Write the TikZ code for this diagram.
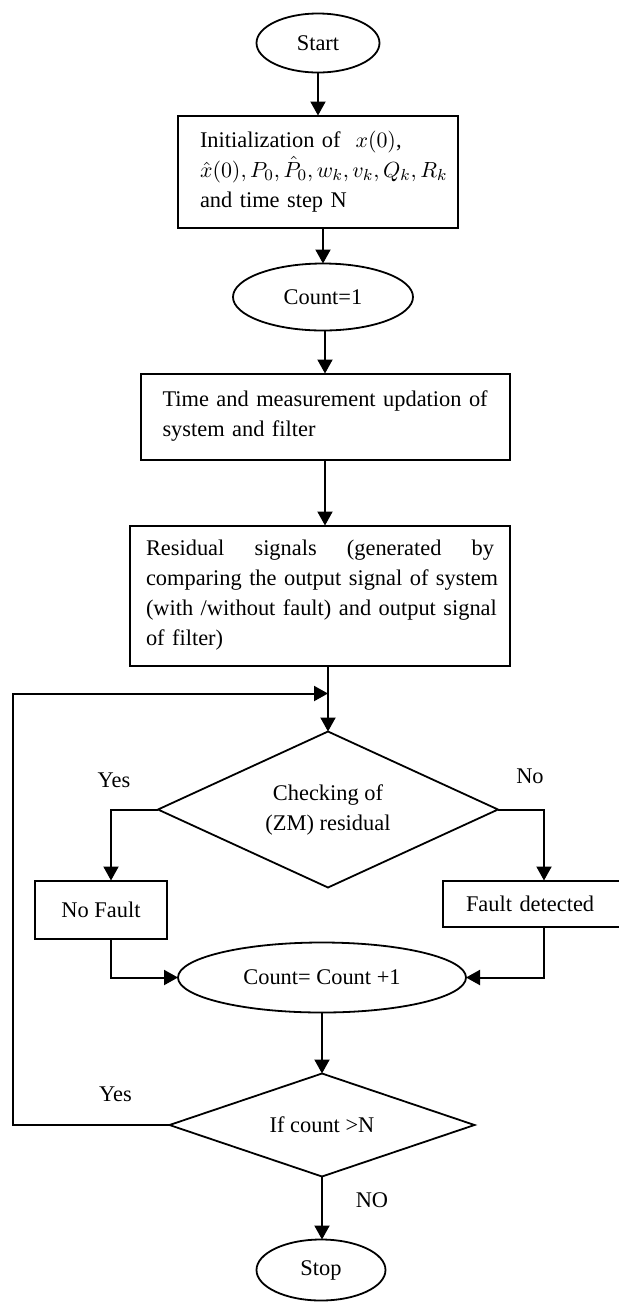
\documentclass[tikz,border=0pt]{standalone}
\usepackage{amsmath}
\usepackage{fontspec}
\setmainfont{Liberation Serif}
\usepackage{tikz}
\usetikzlibrary{positioning,shapes.geometric,arrows.meta}

\tikzset{
  every node/.style={font=\fontsize{11.2}{15}\selectfont, outer sep=0pt},
  term/.style={ellipse, draw, line width=0.9pt, inner sep=0pt},
  procbox/.style={rectangle, draw, line width=1pt},
  decision/.style={diamond, draw, line width=0.9pt, inner sep=0pt, aspect=2.5, align=center},
  arr/.style={line width=1pt, -{Triangle[length=7pt,width=7.5pt]}},
  lbl/.style={inner sep=0pt}
}

\begin{document}
\begin{tikzpicture}

  \useasboundingbox (0,0) rectangle (309.5pt,-651.5pt);

  % Define nodes
  \node[term, minimum width=61.5pt, minimum height=29.5pt] (start) at (159pt,-21.5pt) {Start};
  \node[procbox, below=21.5pt of start, text width=118pt, inner xsep=11pt,
        minimum height=56pt, align=left] (init)
        {\mbox{Initialization of~ $x(0)$,}\\ \mbox{$\hat{x}(0), P_0, \hat{P}_0, w_k, v_k, Q_k, R_k$}\\ \mbox{and time step N}};
  \node[term, below=18pt of init, xshift=2.5pt, minimum width=90pt, minimum height=33.5pt] (count1) {Count=1};
  \node[procbox, below=21.5pt of count1, xshift=1pt, text width=162.5pt, inner xsep=11pt,
        minimum height=43pt, align=left] (time)
        {\mbox{Time and measurement updation of}\\ \mbox{system and filter}};
  \node[procbox, below=33pt of time, xshift=-2.5pt, text width=174pt, inner xsep=8pt,
        minimum height=70pt, align=left] (resid)
        {\hbox to 174pt{Residual\hfill signals\hfill (generated\hfill by}\\ \mbox{comparing the output signal of system}\\
         \mbox{(with /without fault) and output signal}\\ \mbox{of filter)}};
  \node[decision, below=33pt of resid, xshift=4pt, minimum width=170pt, minimum height=78pt] (check)
        {Checking of\\(ZM) residual};
  \node[procbox, below=35.5pt of check.west, xshift=-28.5pt, minimum width=66pt, minimum height=29pt] (nofault) {No Fault};
  \node[procbox, below=35.5pt of check.east, xshift=19pt, text width=70pt, inner xsep=11.5pt,
        minimum height=23pt, align=left] (fault) {Fault detected};
  \node[term, below=27.5pt of check, xshift=-3pt, minimum width=144pt, minimum height=35pt] (count) {Count= Count +1};
  \node[decision, below=30.5pt of count, aspect=3, minimum width=152.5pt, minimum height=51.5pt] (ifn) {If count >N};
  \node[term, below=31.5pt of ifn, xshift=-0.5pt, minimum width=64.5pt, minimum height=30.5pt] (stop) {Stop};

  % Labels
  \node[lbl, xshift=-22pt, yshift=14.5pt] (yesa) at (check.west) {Yes};
  \node[lbl, xshift=16pt, yshift=16.5pt] (noa) at (check.east) {No};
  \node[lbl, xshift=-27pt, yshift=15.5pt] (yesb) at (ifn.west) {Yes};
  \node[lbl, xshift=25pt, yshift=-12pt] (nob) at (ifn.south) {NO};

  % Connect the nodes
  \draw[arr] (start) -- (init);
  \draw[arr] (count1.north |- init.south) -- (count1.north);
  \draw[arr] (time.north |- count1.south) -- (time.north);
  \draw[arr] (time.south) -- (time.south |- resid.north);
  \draw[arr] (check.north |- resid.south) -- (check.north);
  \draw[arr] (check.west) -- ++(-23.5pt,0) coordinate (yk) -- (yk |- nofault.north);
  \draw[arr] (check.east) -- ++(23pt,0) coordinate (nk) -- (nk |- fault.north);
  \draw[arr] (yk |- nofault.south) |- (count.west);
  \draw[arr] (nk |- fault.south) |- (count.east);
  \draw[arr] (count) -- (ifn);
  \draw[arr] (ifn.south) -- (ifn.south |- stop.north);

  % Loop back
  \coordinate[above=19pt of check.north] (fb);
  \draw[arr] (ifn.west) -- ++(-78.5pt,0) |- (fb);

\end{tikzpicture}
\end{document}
